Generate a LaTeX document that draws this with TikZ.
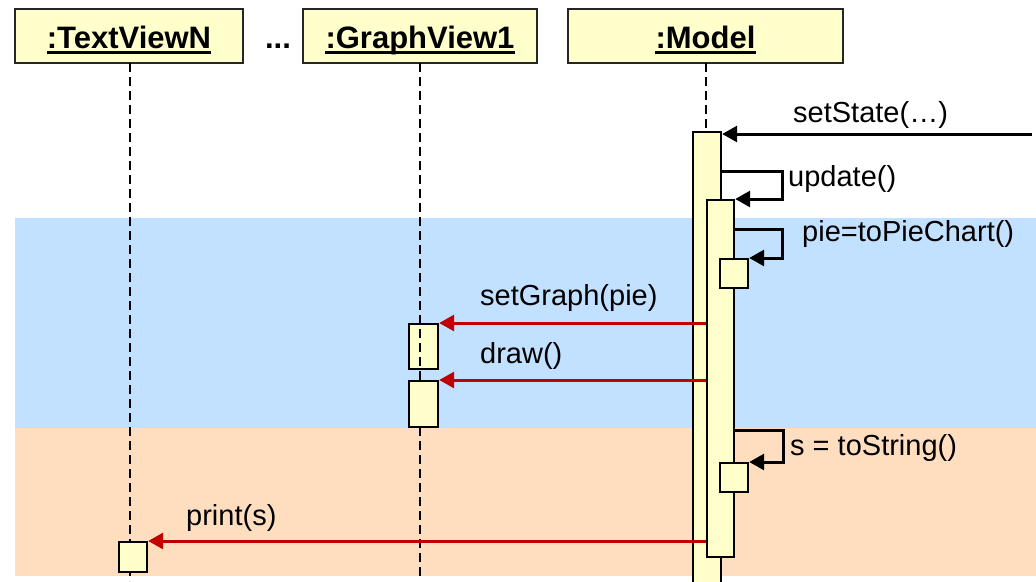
\documentclass[tikz,border=0pt]{standalone}
\usepackage{fontspec}
\setmainfont{Liberation Sans}
\usetikzlibrary{arrows.meta}
\definecolor{boxfill}{HTML}{FFFFCC}
\definecolor{bandblue}{HTML}{C2E0FF}
\definecolor{bandorange}{HTML}{FFDEC0}
\definecolor{msgred}{HTML}{C00000}
\begin{document}
\begin{tikzpicture}[x=1pt,y=-1pt,
  headbox/.style={draw=black!85,line width=2.4pt,fill=boxfill},
  headtext/.style={inner sep=0pt,anchor=base,font=\fontsize{31}{36}\selectfont\bfseries},
  lifeline/.style={line width=1.8pt,dash pattern=on 9pt off 5pt},
  actbar/.style={draw=black,line width=2.2pt,fill=boxfill},
  msg/.style={line width=3pt,-{Triangle[length=15pt,width=16pt]}},
  redmsg/.style={msg,draw=msgred,color=msgred},
  msglabel/.style={inner sep=0pt,anchor=base west,font=\fontsize{29}{34}\selectfont}]
\useasboundingbox (0,0) rectangle (1036,581);
% bands
\fill[bandblue] (15,218) rectangle (1036,428);
\fill[bandorange] (15,428) rectangle (1036,576);
% headers
\draw[headbox] (15,9) rectangle (243,63);
\draw[headbox] (303,9) rectangle (537,63);
\draw[headbox] (568,9) rectangle (843,63);
\node[headtext] (tv) at (129,48) {:TextViewN};
\node[headtext] (gv) at (420,48) {:GraphView1};
\node[headtext] (md) at (705.5,48) {:Model};
\node[headtext] (dots) at (278,48) {...};
\foreach \n in {tv,gv,md}
  \draw[line width=2.8pt] ([yshift=-4.5pt]\n.base west) -- ([yshift=-4.5pt]\n.base east);
% lifelines
\coordinate (tvtop) at (130,63);
\coordinate (tvbot) at (130,581);
\coordinate (gvtop) at (420,63);
\coordinate (gvbot) at (420,576);
\coordinate (mdtop) at (706,63);
\coordinate (mdbot) at (706,131);
\draw[lifeline] (tvtop) -- (tvbot);
\node[actbar,minimum width=29pt,minimum height=45pt,inner sep=0pt,anchor=north west] (g1) at (408,323) {};
\draw[lifeline] (gvtop) -- (gvbot);
\node[actbar,minimum width=29pt,minimum height=46pt,inner sep=0pt,anchor=north west] (g2) at (408,380) {};
\draw[lifeline] (mdtop) -- (mdbot);
% text view activation
\node[actbar,minimum width=28pt,minimum height=30pt,inner sep=0pt,anchor=north west] (t1) at (118,541) {};
% model activations
\node[actbar,minimum width=28pt,minimum height=455pt,inner sep=0pt,anchor=north west] (b1) at (692,131) {};
\node[actbar,minimum width=27pt,minimum height=357pt,inner sep=0pt,anchor=north west] (b2) at (706,199) {};
\node[actbar,minimum width=28pt,minimum height=29pt,inner sep=0pt,anchor=north west] (b3) at (719,258) {};
\node[actbar,minimum width=28pt,minimum height=29pt,inner sep=0pt,anchor=north west] (b4) at (719,462) {};
% setState
\coordinate (ext) at (1032,134);
\draw[msg] (ext) -- (b1.east |- ext);
\node[msglabel] (l1) at (793,122) {setState(…)};
% update
\coordinate (u1) at (b1.east |- 0,171);
\draw[msg] (u1) -- (782,171) -- (782,199) -- (b2.north east);
\node[msglabel] (l2) at (788,186) {update()};
% toPieChart
\coordinate (p1) at (b2.east |- 0,229);
\draw[msg] (p1) -- (782,229) -- (782,258) -- (b3.north east);
\node[msglabel] (l3) at (802,241) {pie=toPieChart()};
% setGraph
\draw[redmsg] (b2.west |- g1.north) -- (g1.north east);
\node[msglabel] (l4) at (480,305) {setGraph(pie)};
% draw
\draw[redmsg] (b2.west |- g2.north) -- (g2.north east);
\node[msglabel] (l5) at (480,363) {draw()};
% toString
\coordinate (s1) at (b2.east |- 0,430);
\draw[msg] (s1) -- (783,430) -- (783,462) -- (b4.north east);
\node[msglabel] (l6) at (790,455) {s = toString()};
% print
\draw[redmsg] (b2.west |- t1.north) -- (t1.north east);
\node[msglabel] (l7) at (186,525) {print(s)};
\end{tikzpicture}
\end{document}
